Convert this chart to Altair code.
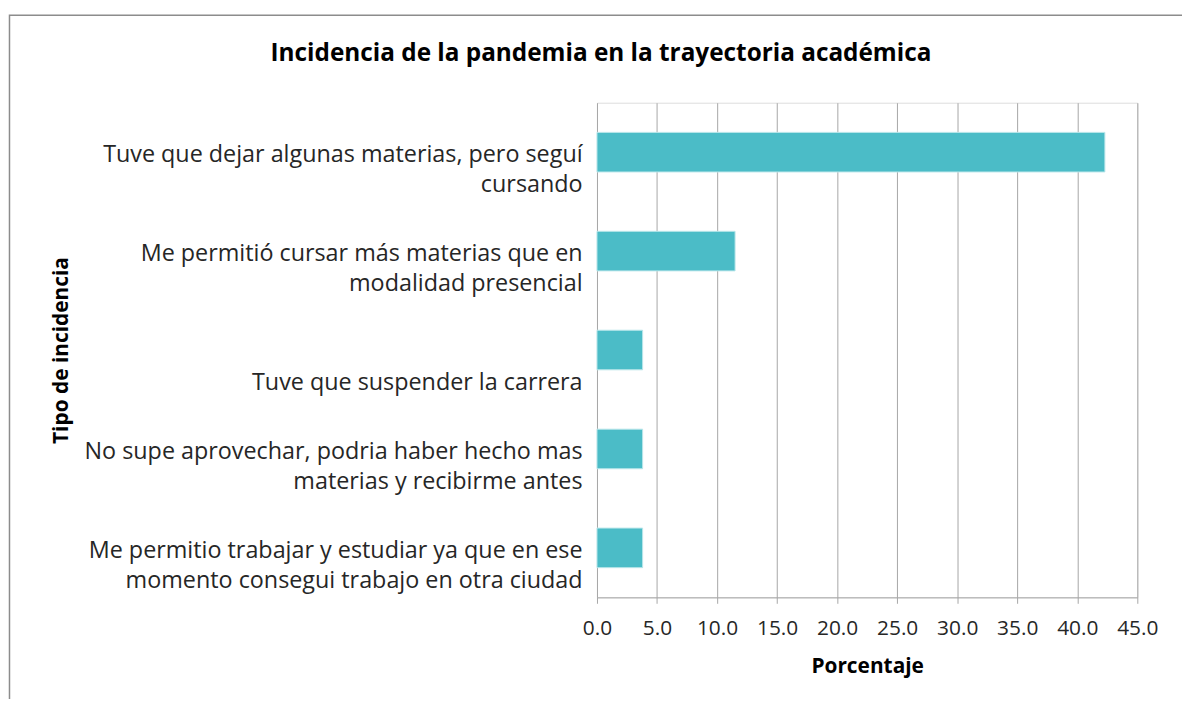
import altair as alt
import pandas as pd

categories = [
    "Tuve que dejar algunas materias, pero seguí|cursando",
    "Me permitió cursar más materias que en|modalidad presencial",
    "|Tuve que suspender la carrera",
    "No supe aprovechar, podria haber hecho mas|materias y recibirme antes",
    "Me permitio trabajar y estudiar ya que en ese|momento consegui trabajo en otra ciudad",
]
values = [42.3, 11.5, 3.8, 3.8, 3.8]
x_ticks = [0, 5, 10, 15, 20, 25, 30, 35, 40, 45]
title_text = "Incidencia de la pandemia en la trayectoria académica"

df = pd.DataFrame({"categoria": categories, "porcentaje": values})

FONT = "Open Sans"
TXT = "#262626"
GRID = "#a6a6a6"

bars = alt.Chart(df).mark_bar(color="#4BBCC7", stroke="#b9e6ea", strokeWidth=1).encode(
    x=alt.X(
        "porcentaje:Q",
        scale=alt.Scale(domain=[0, 45], nice=False),
        axis=alt.Axis(
            title="Porcentaje",
            values=x_ticks,
            format=".1f",
            grid=True,
            gridColor=GRID,
            gridWidth=1,
            domainColor=GRID,
            tickColor=GRID,
            tickSize=6,
            labelPadding=14,
            labelOverlap=False,
            labelFlush=False,
            labelFont=FONT,
            labelFontSize=21,
            labelColor=TXT,
            titleFont=FONT,
            titleFontSize=21,
            titleFontWeight="bold",
            titleColor="#000000",
            titlePadding=18,
        ),
    ),
    y=alt.Y(
        "categoria:N",
        sort=categories,
        scale=alt.Scale(paddingInner=0.6, paddingOuter=0.3),
        axis=alt.Axis(
            title="Tipo de incidencia",
            labelExpr="split(datum.label, '|')",
            labelFont=FONT,
            labelFontSize=23.5,
            labelColor=TXT,
            labelLineHeight=30,
            labelOffset=3,
            labelPadding=15,
            labelLimit=700,
            ticks=False,
            domain=False,
            grid=False,
            titleFont=FONT,
            titleFontSize=21,
            titleFontWeight="bold",
            titleColor="#000000",
            titleAngle=-90,
            titleX=-539,
            titleY=249,
            titleBaseline="middle",
            titleAlign="center",
        ),
    ),
)

border = alt.Chart(alt.Data(values=[{}])).mark_rect(
    filled=False, stroke="#8c8c8c", strokeWidth=1.5
).encode(
    x=alt.value(-591.5),
    x2=alt.value(700),
    y=alt.value(-88),
    y2=alt.value(700),
)

title = alt.Chart(alt.Data(values=[{"t": title_text}])).mark_text(
    font=FONT, fontSize=24.5, fontWeight="bold", color="#000000",
    align="center", baseline="middle"
).encode(
    text="t:N",
    x=alt.value(4),
    y=alt.value(-49),
)

chart = alt.layer(border, bars, title).properties(
    width=544,
    height=498,
    padding={"left": 593, "top": 93, "right": 45, "bottom": 100},
    autosize=alt.AutoSizeParams(type="none"),
).configure_view(stroke=None).configure(background="white")

chart.save("out.html", embed_options={"renderer": "svg", "actions": False})
